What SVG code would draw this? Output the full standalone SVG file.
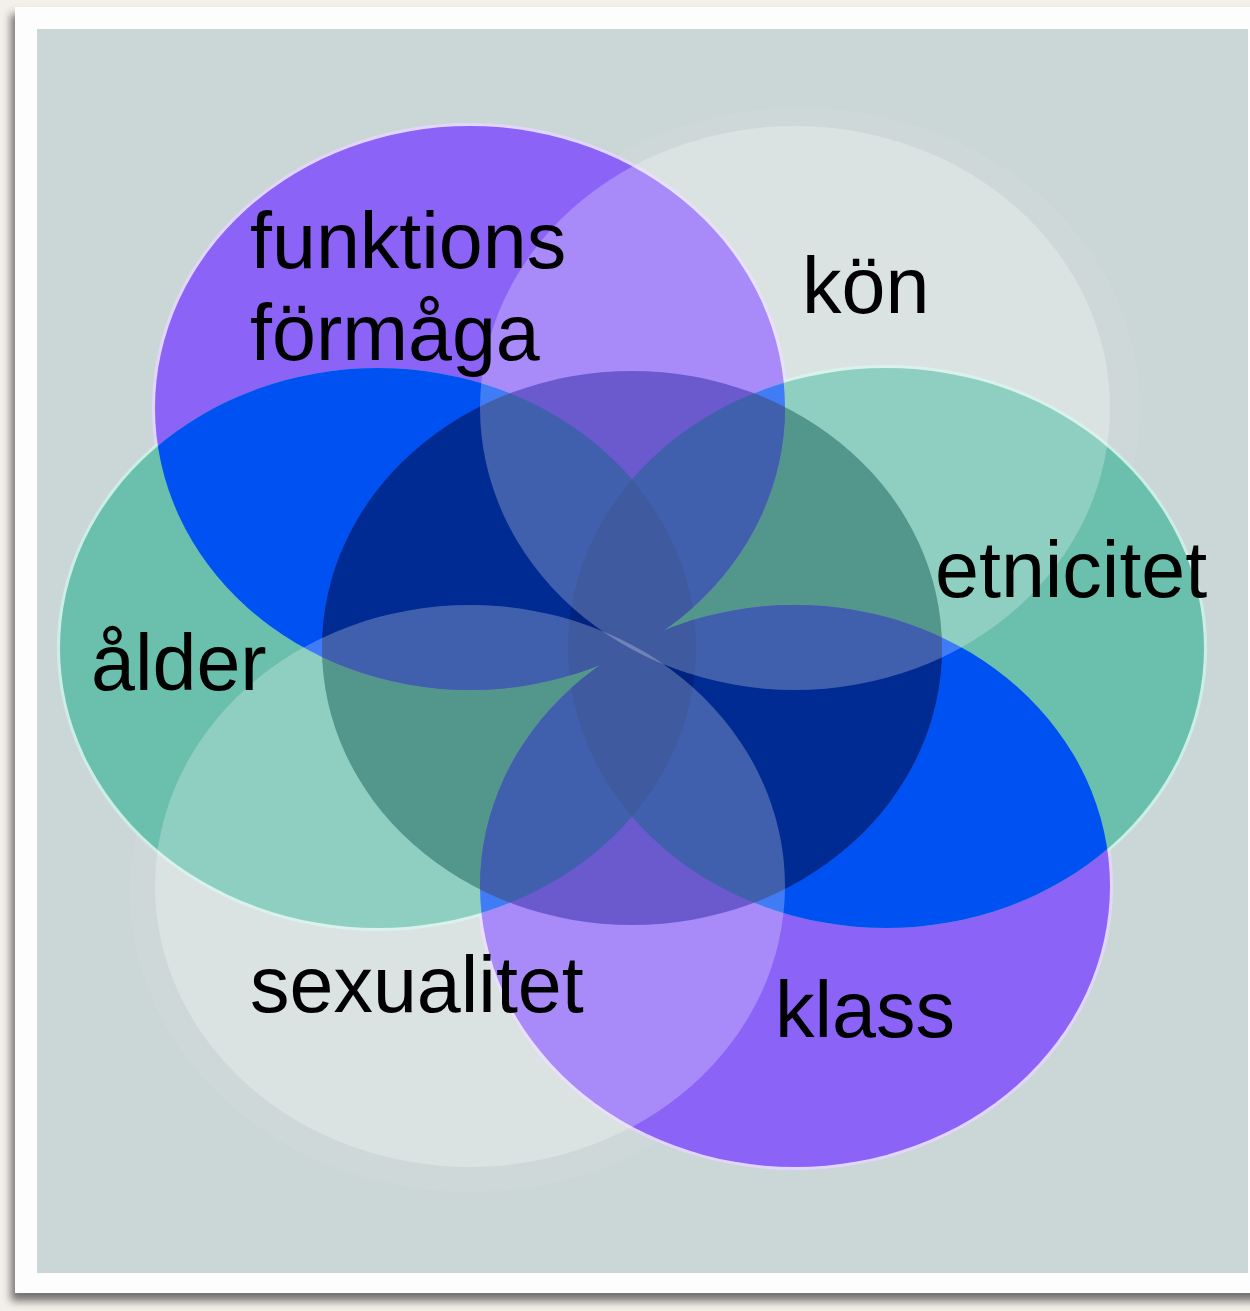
<svg xmlns="http://www.w3.org/2000/svg" xmlns:xlink="http://www.w3.org/1999/xlink" width="1250" height="1311" viewBox="0 0 1250 1311">
<defs>
<style>
.lbl{font-family:"Liberation Sans",Arial,sans-serif;font-size:79px;fill:#000}
.pur{fill:#8c63f7}
.teal{fill:#6abfad}
.blue{fill:#0051f2}
.dpur{fill:#3923be}
.dteal{fill:#1a7365}
.navy{fill:#002b92}
.strip{fill:#00237f}
.white{fill:#fff;fill-opacity:.25}
.rimP{fill:none;stroke:#e2d6ff;stroke-width:6}
.rimT{fill:none;stroke:#cdeee6;stroke-width:6}
</style>
<filter id="sh" x="-5%" y="-5%" width="110%" height="110%"><feGaussianBlur stdDeviation="4"/></filter>
<ellipse id="eA" cx="470" cy="408" rx="315" ry="282"/>
<ellipse id="eB" cx="795" cy="408" rx="315" ry="282"/>
<ellipse id="eC" cx="886" cy="648" rx="318" ry="280"/>
<ellipse id="eD" cx="795" cy="886" rx="315" ry="281"/>
<ellipse id="eE" cx="470" cy="886" rx="315" ry="281"/>
<ellipse id="eF" cx="378" cy="648" rx="318" ry="280"/>
<ellipse id="eG" cx="632" cy="648" rx="310" ry="277"/>
<clipPath id="cA"><ellipse cx="470" cy="408" rx="315" ry="282"/></clipPath>
<clipPath id="cC"><ellipse cx="886" cy="648" rx="318" ry="280"/></clipPath>
<clipPath id="cD"><ellipse cx="795" cy="886" rx="315" ry="281"/></clipPath>
<clipPath id="cG"><ellipse cx="632" cy="648" rx="310" ry="277"/></clipPath>
</defs>
<g id="background">
<rect width="1250" height="1311" fill="#f3f0e9"/>
<rect x="11" y="14" width="1260" height="1287" fill="#3a3a3a" opacity=".7" filter="url(#sh)"/>
<rect x="15" y="7" width="1240" height="1286" fill="#fdfdfd"/>
<rect x="37" y="29" width="1211" height="1244" fill="#cbd6d7"/>
</g>
<g id="halos" fill="#fff" opacity=".07">
<ellipse cx="800" cy="408" rx="340" ry="300"/>
<ellipse cx="470" cy="892" rx="340" ry="300"/>
</g>
<g id="rims">
<use href="#eA" class="rimP"/><use href="#eD" class="rimP"/>
<use href="#eC" class="rimT"/><use href="#eF" class="rimT"/>
</g>
<g id="circle-funktionsformaga"><use href="#eA" class="pur"/></g>
<g id="circle-klass"><use href="#eD" class="pur"/></g>
<g id="circle-etnicitet"><use href="#eC" class="teal"/></g>
<g id="circle-alder"><use href="#eF" class="teal"/></g>
<g id="overlaps">
<g clip-path="url(#cA)"><use href="#eF" class="blue"/><use href="#eC" class="blue"/></g>
<g clip-path="url(#cD)"><use href="#eF" class="blue"/><use href="#eC" class="blue"/></g>
<g clip-path="url(#cG)">
<use href="#eF" class="dteal"/><use href="#eC" class="dteal"/>
<use href="#eA" class="dpur"/><use href="#eD" class="dpur"/>
<g clip-path="url(#cA)"><use href="#eF" class="navy"/><use href="#eC" class="navy"/></g>
<g clip-path="url(#cD)"><use href="#eF" class="navy"/><use href="#eC" class="navy"/></g>
<g clip-path="url(#cC)">
<g clip-path="url(#cA)"><use href="#eF" class="strip"/></g>
<g clip-path="url(#cD)"><use href="#eF" class="strip"/></g>
</g>
</g>
</g>
<g id="circle-kon"><use href="#eB" class="white"/></g>
<g id="circle-sexualitet"><use href="#eE" class="white"/></g>
<g id="connectors"/>
<g id="node-funktionsformaga"><text class="lbl" x="250" y="268">funktions</text><text class="lbl" x="250" y="360">förmåga</text></g>
<g id="node-kon"><text class="lbl" x="802" y="313">kön</text></g>
<g id="node-etnicitet"><text class="lbl" x="935" y="597">etnicitet</text></g>
<g id="node-alder"><text class="lbl" x="91" y="690">ålder</text></g>
<g id="node-sexualitet"><text class="lbl" x="250" y="1012">sexualitet</text></g>
<g id="node-klass"><text class="lbl" x="775" y="1037">klass</text></g>
</svg>
